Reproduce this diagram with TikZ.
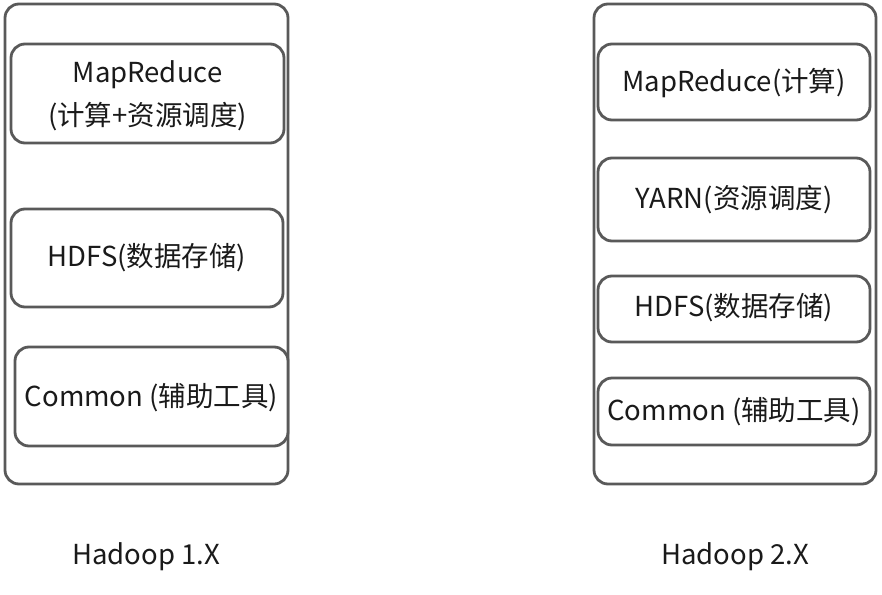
\documentclass[tikz,border=0pt]{standalone}
\usepackage{fontspec}
\setmainfont{Noto Sans CJK SC}
\definecolor{edge}{HTML}{595959}
\definecolor{ink}{HTML}{1A1A1A}
\begin{document}
\begin{tikzpicture}[x=1pt,y=-1pt,
  outerbox/.style={draw=edge,line width=2.8pt,rounded corners=14pt},
  layer/.style={draw=edge,line width=2.8pt,rounded corners=14pt,fill=white},
  txt/.style={text=ink,font=\fontsize{27.5}{43}\selectfont,align=center,inner sep=0pt},
  caption/.style={text=ink,font=\fontsize{27.5}{30}\selectfont,inner sep=0pt}]
\useasboundingbox (0,0) rectangle (882,594);
% Hadoop 1.X
\draw[outerbox] (5,4) rectangle (288,484);
\draw[layer] (11,44) rectangle (284,143);
\node[txt] (mr1) at (147.5,95.5) {MapReduce\\(计算+资源调度)};
\draw[layer] (11,209) rectangle (283,307);
\node[txt] (hd1) at (147,258) {HDFS(数据存储)};
\draw[layer] (15,347) rectangle (288,446);
\node[txt] (cm1) at (151.5,398) {Common (辅助工具)};
\node[caption] (l1) at (146,557) {Hadoop 1.X};
% Hadoop 2.X
\draw[outerbox] (594,4) rectangle (876,484);
\draw[layer] (598,44) rectangle (870,120);
\node[txt] (mr2) at (734,83) {MapReduce(计算)};
\draw[layer] (598,158) rectangle (870,241);
\node[txt] (yn2) at (734,200) {YARN(资源调度)};
\draw[layer] (598,276) rectangle (870,342);
\node[txt] (hd2) at (734,308) {HDFS(数据存储)};
\draw[layer] (598,378) rectangle (870,445);
\node[txt] (cm2) at (734,412) {Common (辅助工具)};
\node[caption] (l2) at (735,557) {Hadoop 2.X};
\end{tikzpicture}
\end{document}
